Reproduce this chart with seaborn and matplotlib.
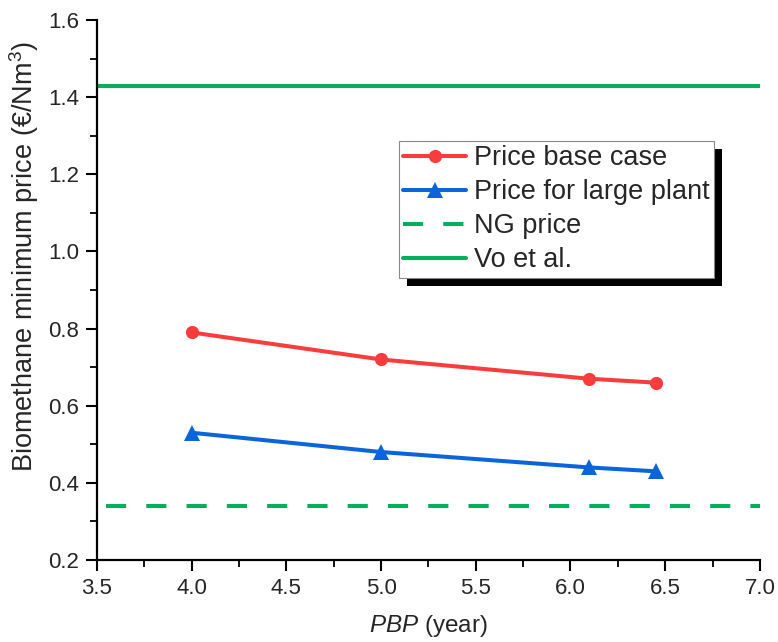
import matplotlib
matplotlib.use("Agg")
import matplotlib.pyplot as plt
import matplotlib.patheffects as pe
from matplotlib.ticker import MultipleLocator
import numpy as np
import pandas as pd
import seaborn as sns

# data
pbp = [4.0, 5.0, 6.1, 6.45]
price_base = [0.79, 0.72, 0.67, 0.66]
price_large = [0.53, 0.48, 0.44, 0.43]
ng_price = 0.34
ng_xrange = [3.55, 7.0]
vo_price = 1.43

RED = "#fa3c3c"
BLUE = "#0a64dc"
GREEN = "#00ae5c"
LW = 2.9
DASH = (0, (5.0, 5.0))

sns.set_style("ticks")
plt.rcParams["font.family"] = ["Liberation Sans", "DejaVu Sans"]
plt.rcParams["mathtext.fontset"] = "custom"
plt.rcParams["mathtext.rm"] = "Liberation Sans"
plt.rcParams["mathtext.it"] = "Liberation Sans:italic"

df = pd.DataFrame({"PBP": pbp + pbp,
                   "Price": price_base + price_large,
                   "Series": ["Price base case"] * len(pbp) + ["Price for large plant"] * len(pbp)})

fig = plt.figure(figsize=(7.78, 6.42), dpi=100)
ax = fig.add_axes([0.1247, 0.1277, 0.852, 0.841])

sns.lineplot(data=df[df.Series == "Price base case"], x="PBP", y="Price", color=RED,
             marker="o", markersize=9.5, markeredgewidth=0, linewidth=LW, ax=ax)
sns.lineplot(data=df[df.Series == "Price for large plant"], x="PBP", y="Price", color=BLUE,
             marker="^", markersize=11, markeredgewidth=0, linewidth=LW, ax=ax)

ax.hlines(ng_price, ng_xrange[0], ng_xrange[1], colors=GREEN, linestyles=DASH, linewidth=LW)
ax.axhline(vo_price, color=GREEN, linewidth=LW)

ax.set_xlim(3.5, 7.0)
ax.set_ylim(0.2, 1.6)
ax.xaxis.set_major_locator(MultipleLocator(0.5))
ax.xaxis.set_minor_locator(MultipleLocator(0.25))
ax.yaxis.set_major_locator(MultipleLocator(0.2))
ax.yaxis.set_minor_locator(MultipleLocator(0.1))
ax.xaxis.set_major_formatter(lambda v, p: f"{v:.1f}")
ax.yaxis.set_major_formatter(lambda v, p: f"{v:.1f}")

sns.despine(ax=ax)
for s in ["left", "bottom"]:
    ax.spines[s].set_linewidth(1.6)
    ax.spines[s].set_color("black")
ax.tick_params(which="major", length=8, width=1.5, labelsize=16, color="black", pad=5)
ax.tick_params(which="minor", length=5, width=1.3, color="black")

ax.set_xlabel("$PBP$ (year)", fontsize=17.5, labelpad=10)
ax.set_ylabel("Biomethane minimum price (€/Nm$^3$)", fontsize=19.5)
ax.yaxis.set_label_coords(-0.085, 0.563)

handles = [
    plt.Line2D([], [], color=RED, marker="o", markersize=9.5, lw=LW, markeredgewidth=0),
    plt.Line2D([], [], color=BLUE, marker="^", markersize=11, lw=LW, markeredgewidth=0),
    plt.Line2D([], [], color=GREEN, lw=LW, ls=DASH),
    plt.Line2D([], [], color=GREEN, lw=LW),
]
labels = ["Price base case", "Price for large plant", "NG price", "Vo et al."]
leg = ax.legend(handles, labels, loc="upper left", bbox_to_anchor=(0.455, 0.776),
                fontsize=19.5, frameon=True, fancybox=False, framealpha=1,
                handlelength=2.35, handletextpad=0.3, labelspacing=0.3,
                borderpad=0.15, borderaxespad=0)
frame = leg.get_frame()
frame.set_edgecolor("#888888")
frame.set_linewidth(0.8)
frame.set_path_effects([pe.SimplePatchShadow(offset=(6, -6), shadow_rgbFace="black", alpha=1),
                        pe.Normal()])

fig.savefig("out.png", dpi=100)
